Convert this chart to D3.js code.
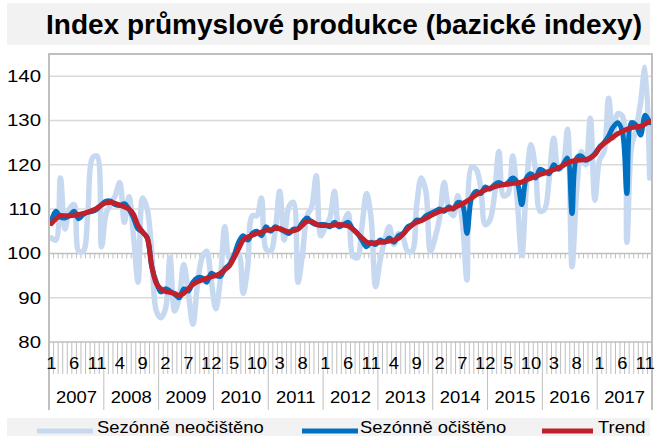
<!DOCTYPE html>
<html>
<head>
<meta charset="utf-8">
<script src="https://cdn.jsdelivr.net/npm/d3@7"></script>
<style>
  body { margin: 0; background: #fff; }
  svg { display: block; font-family: "Liberation Sans", Arial, sans-serif; }
</style>
</head>
<body>
<script>
// years on the category axis (12 months each)
const years = [2007, 2008, 2009, 2010, 2011, 2012, 2013, 2014, 2015, 2016, 2017];

// Sezónně neočištěno (not seasonally adjusted)
const nsa = [
  103.5, 103.0, 117.0, 105.5, 110.0, 111.0, 100.5, 100.5, 109.0, 121.5, 122.0, 101.5,
  109.0, 111.0, 113.0, 116.0, 107.0, 112.8, 104.0, 93.5, 112.5, 110.0, 100.0, 87.0,
  85.5, 87.5, 99.0, 87.0, 90.0, 97.5, 91.0, 84.0, 93.0, 99.0, 100.5, 94.0,
  87.5, 94.0, 106.0, 99.0, 99.5, 100.0, 91.0, 97.0, 108.5, 108.5, 112.5, 101.0,
  100.5, 105.0, 114.0, 103.0, 110.5, 111.5, 93.5, 100.0, 108.5, 110.5, 117.5, 104.0,
  106.0, 108.0, 114.0, 106.0, 107.0, 109.0, 99.5, 99.0, 106.0, 113.5, 108.0, 92.5,
  98.5, 103.0, 106.0, 102.0, 104.5, 103.5, 100.5, 100.5, 111.0, 117.0, 114.0, 100.5,
  103.5, 108.0, 116.0, 110.0, 108.5, 113.0, 107.0, 94.0, 119.5, 119.0, 115.0, 106.5,
  107.5, 113.0, 123.0, 113.0, 113.5, 122.0, 112.0, 99.5, 115.0, 124.5, 119.0, 109.5,
  110.0, 117.0, 126.0, 119.0, 120.0, 128.0, 97.0, 114.0, 123.0, 120.0, 130.5, 112.0,
  121.0, 123.0, 135.0, 126.0, 131.5, 131.0, 102.5, 124.0, 128.0, 134.0, 142.0, 117.0
];

// Sezónně očištěno (seasonally adjusted)
const sa = [
  107.2, 109.5, 108.2, 108.0, 108.5, 109.5, 107.8, 108.8, 109.3, 109.5, 110.0, 111.0,
  111.8, 111.8, 111.0, 110.8, 111.2, 110.0, 108.0, 105.5, 104.8, 103.5, 97.0, 93.5,
  91.3, 92.0, 91.5, 90.8, 90.0, 92.0, 91.5, 93.5, 94.5, 94.5, 93.5, 95.5,
  95.0, 94.8, 96.5, 97.5, 99.5, 102.5, 104.0, 103.0, 104.5, 105.0, 104.0, 106.0,
  105.0, 106.0, 105.5, 105.0, 104.5, 105.5, 105.5, 107.0, 108.0, 107.0, 106.5, 106.5,
  106.5, 106.0, 107.0, 106.0, 106.5, 107.0, 105.5, 104.5, 103.0, 101.5, 102.5, 102.0,
  103.0, 102.5, 103.5, 102.5, 104.0, 104.5, 106.0, 106.5, 107.5, 107.5, 108.5, 109.0,
  109.5, 110.0, 109.5, 110.5, 110.0, 111.5, 111.0, 104.5, 112.5, 114.0, 113.5, 115.0,
  114.5, 115.5, 116.0, 115.5, 116.0, 117.0, 116.0, 111.0, 117.0, 118.0, 117.0, 119.0,
  118.5, 118.0, 120.0, 119.0, 120.0, 121.5, 109.0, 121.5, 122.0, 121.0, 121.5, 122.5,
  124.0, 125.0, 126.5, 128.5, 129.5, 127.5, 113.5, 129.5, 129.0, 126.7, 131.2, 129.5
];

// Trend
const trend = [
  106.7, 107.8, 108.5, 108.5, 108.5, 108.6, 108.8, 109.0, 109.3, 109.7, 110.2, 110.9,
  111.4, 111.5, 111.3, 110.9, 110.5, 110.0, 108.8, 106.3, 104.8, 103.5, 97.0, 93.2,
  92.0, 91.4, 91.2, 90.9, 90.5, 91.0, 92.0, 93.0, 93.6, 94.0, 94.4, 94.7,
  95.0, 95.5, 96.3, 97.2, 99.0, 101.0, 103.0, 103.7, 104.1, 104.5, 104.8, 105.2,
  105.3, 105.6, 105.6, 105.2, 104.9, 105.1, 105.5, 106.4, 107.2, 107.2, 106.6, 106.3,
  106.3, 106.3, 106.4, 106.5, 106.4, 106.2, 105.5, 104.5, 103.5, 102.6, 102.3, 102.4,
  102.5, 102.6, 102.8, 103.0, 103.4, 104.3, 105.5, 106.4, 107.0, 107.4, 107.9, 108.5,
  109.0, 109.5, 109.8, 110.0, 110.2, 110.7, 111.2, 111.8, 112.5, 113.2, 113.8, 114.3,
  114.7, 115.0, 115.3, 115.5, 115.6, 115.8, 115.9, 116.1, 116.6, 117.0, 117.4, 117.8,
  118.1, 118.5, 118.9, 119.3, 119.8, 120.4, 120.8, 121.0, 121.1, 121.2, 121.6, 122.3,
  123.8, 124.8, 125.5, 126.3, 127.0, 127.5, 128.0, 128.4, 128.6, 128.7, 129.2, 129.8
];

const yTicks = [80, 90, 100, 110, 120, 130, 140];

const series = [
  { name: "Sezónně neočištěno", values: nsa, color: "#c6d9f0", width: 5.5 },
  { name: "Sezónně očištěno", values: sa, color: "#0070c0", width: 5 },
  { name: "Trend", values: trend, color: "#c0202a", width: 5 }
];

const W = 659, H = 436;
const plot = { left: 49, right: 652, top: 54, bottom: 342 };

const svg = d3.select("body").append("svg")
  .attr("width", W)
  .attr("height", H);

// month index -> category band
const idx = d3.range(years.length * 12);
const x = d3.scaleBand()
  .domain(idx)
  .range([plot.left, plot.right]);
const y = d3.scaleLinear()
  .domain([80, 145])
  .range([plot.bottom, plot.top]);

const grey = "#bfbfbf";

// title
svg.append("rect")
  .attr("x", 7).attr("y", 3)
  .attr("width", 643).attr("height", 42)
  .attr("fill", "#f2f2f2");
svg.append("text")
  .attr("x", 344).attr("y", 34)
  .attr("text-anchor", "middle")
  .attr("font-size", 28)
  .attr("font-weight", "bold")
  .text("Index průmyslové produkce (bazické indexy)");

// horizontal gridlines
svg.append("g")
  .selectAll("line")
  .data(yTicks.filter(d => d !== 80 && d !== 100))
  .join("line")
  .attr("x1", plot.left).attr("x2", plot.right)
  .attr("y1", d => y(d)).attr("y2", d => y(d))
  .attr("stroke", "#d9d9d9")
  .attr("stroke-width", 1.5);

// the axis crosses at 100: line with small month ticks
const bounds = idx.concat([idx.length]).map(i => plot.left + i * x.bandwidth());
svg.append("line")
  .attr("x1", plot.left).attr("x2", plot.right)
  .attr("y1", y(100)).attr("y2", y(100))
  .attr("stroke", grey).attr("stroke-width", 1.5);
svg.append("g")
  .selectAll("line")
  .data(bounds)
  .join("line")
  .attr("x1", d => d).attr("x2", d => d)
  .attr("y1", y(100)).attr("y2", y(100) + 5)
  .attr("stroke", grey);

// y labels
svg.append("g")
  .selectAll("text")
  .data(yTicks)
  .join("text")
  .attr("transform", d => `translate(41,${y(d) + 6}) scale(1.2,1)`)
  .attr("text-anchor", "end")
  .attr("font-size", 17)
  .text(d => d);

// lines
const line = values => d3.line()
  .x((d, i) => x(i) + x.bandwidth() / 2)
  .y(d => y(d))
  .curve(d3.curveCatmullRom.alpha(0.5))(values);

svg.append("g")
  .selectAll("path")
  .data(series)
  .join("path")
  .attr("d", d => line(d.values))
  .attr("fill", "none")
  .attr("stroke", d => d.color)
  .attr("stroke-width", d => d.width)
  .attr("stroke-linejoin", "round")
  .attr("stroke-linecap", "round");

// plot frame (top, left, right)
svg.append("path")
  .attr("d", `M${plot.left},410 V${plot.top} H${plot.right} V410`)
  .attr("fill", "none")
  .attr("stroke", grey)
  .attr("stroke-width", 2);

// category axis
svg.append("line")
  .attr("x1", plot.left).attr("x2", plot.right)
  .attr("y1", plot.bottom).attr("y2", plot.bottom)
  .attr("stroke", grey).attr("stroke-width", 1.5);
svg.append("g")
  .selectAll("line")
  .data(bounds)
  .join("line")
  .attr("x1", d => d).attr("x2", d => d)
  .attr("y1", plot.bottom)
  .attr("y2", (d, i) => i % 12 === 0 ? 410 : 374)
  .attr("stroke", grey);

// month labels every 5th month
svg.append("g")
  .selectAll("text")
  .data(idx.filter(i => i % 5 === 0))
  .join("text")
  .attr("transform", i => `translate(${x(i) + x.bandwidth() / 2},369) scale(1.15,1)`)
  .attr("text-anchor", "middle")
  .attr("font-size", 16)
  .text(i => i % 12 + 1);

// year labels
svg.append("g")
  .selectAll("text")
  .data(years)
  .join("text")
  .attr("transform", (d, k) => `translate(${x(k * 12) + 6 * x.bandwidth()},403) scale(1.15,1)`)
  .attr("text-anchor", "middle")
  .attr("font-size", 16)
  .text(d => d);

// legend
svg.append("rect")
  .attr("x", 7).attr("y", 418)
  .attr("width", 643).attr("height", 18)
  .attr("fill", "#f2f2f2");
const legendX = [{ x1: 37, x2: 93, tx: 97 }, { x1: 302, x2: 358, tx: 360 }, { x1: 542, x2: 593, tx: 598 }];
const lg = svg.append("g")
  .selectAll("g")
  .data(series)
  .join("g");
lg.append("line")
  .attr("x1", (d, i) => legendX[i].x1).attr("x2", (d, i) => legendX[i].x2)
  .attr("y1", 431).attr("y2", 431)
  .attr("stroke", d => d.color)
  .attr("stroke-width", 5);
lg.append("text")
  .attr("transform", (d, i) => `translate(${legendX[i].tx},432.5) scale(1.15,1)`)
  .attr("font-size", 16)
  .text(d => d.name);
</script>
</body>
</html>
